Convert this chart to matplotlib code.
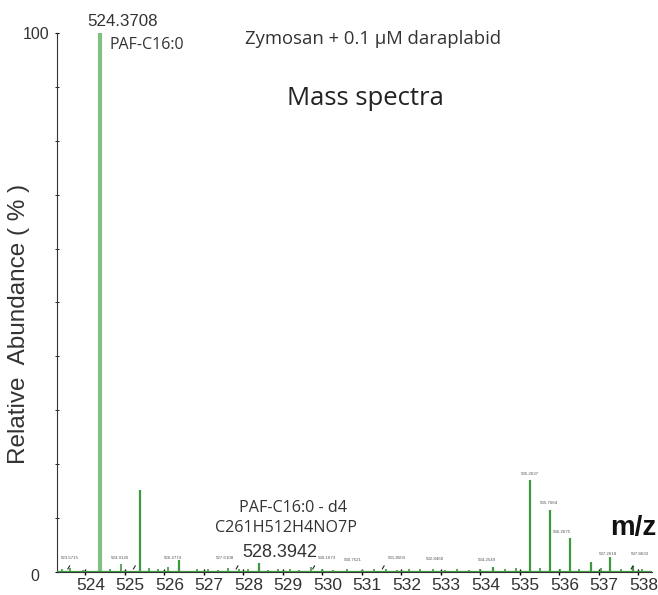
import matplotlib
matplotlib.use("Agg")
import matplotlib.pyplot as plt
from matplotlib.ticker import MultipleLocator, FixedLocator
from matplotlib.transforms import ScaledTranslation

# main labelled peaks (m/z, relative abundance %)
peak_mz = [524.3708, 525.3736, 535.2637, 535.7664, 536.2675, 536.79, 537.28, 526.37, 528.39, 534.31, 537.86]
peak_int = [100, 15.2, 17.1, 11.5, 6.3, 1.9, 2.8, 2.2, 1.7, 1.0, 1.1]

# small noise peaks along the baseline
noise_mz = [523.40, 523.62, 523.95, 524.62, 524.90, 525.62, 525.85, 526.10, 526.82, 527.10,
            527.37, 527.62, 527.90, 528.12, 528.62, 528.87, 529.18, 529.42, 529.70, 530.00,
            530.28, 530.62, 531.00, 531.30, 531.62, 531.90, 532.20, 532.48, 532.80, 533.10,
            533.40, 533.70, 534.00, 534.62, 534.90, 535.50, 536.02, 536.50, 537.05, 537.55, 538.10]
noise_int = [0.5, 0.8, 0.4, 0.6, 1.4, 0.7, 0.5, 0.9, 0.6, 0.5,
             0.4, 0.7, 0.5, 0.6, 0.4, 0.6, 0.5, 0.4, 0.9, 0.5,
             0.4, 0.5, 0.4, 0.6, 0.5, 0.4, 0.5, 0.6, 0.5, 0.4,
             0.5, 0.4, 0.6, 0.5, 0.7, 0.8, 0.6, 0.5, 0.7, 0.5, 0.6]

# tiny peak annotations (text, m/z, y)
small_labels = ["523.5715", "524.9126", "526.2774", "527.6108", "530.1673", "530.7521",
                "531.8503", "532.8460", "534.2549", "535.2637", "535.7664", "536.2675",
                "537.2618", "537.8633"]
small_label_mz = [523.61, 524.88, 526.22, 527.53, 530.12, 530.78, 531.89, 532.85, 534.17,
                  535.26, 535.74, 536.06, 537.22, 538.03]
small_label_y = [2.2, 2.2, 2.2, 2.2, 2.2, 1.8, 2.2, 2.0, 1.8, 17.8, 12.5, 7.1, 3.0, 3.0]

# little black pointers down to the baseline
pointer_mz = [523.52, 525.18, 527.78, 529.72, 531.48, 537.78]

xticks = list(range(524, 539))

fig = plt.figure(figsize=(6.58, 5.95), dpi=100)
ax = fig.add_axes([0.0866, 0.0387, 0.9044, 0.9058])

green = "#3f9a3f"
ax.vlines(noise_mz, 0, noise_int, color=green, lw=1.2)
ax.vlines(peak_mz[1:], 0, peak_int[1:], color=green, lw=1.6)
ax.vlines(peak_mz[:1], 0, peak_int[:1], color="#80c080", lw=3.0)
ax.axhline(0, color=green, lw=1.6, zorder=3)

for t, m, y in zip(small_labels, small_label_mz, small_label_y):
    ax.text(m, y, t, fontsize=3.2, color="#555555", ha="center", va="bottom",
            family="Liberation Sans")
for m in pointer_mz:
    ax.annotate("", xy=(m, 0.1), xytext=(m + 0.12, 1.6),
                arrowprops=dict(arrowstyle="-", color="#222222", lw=0.8))

ax.set_xlim(523.282, 538.346)
ax.set_ylim(0, 100)

for s in ["top", "right"]:
    ax.spines[s].set_visible(False)
ax.spines["left"].set_color("#333333")
ax.spines["bottom"].set_color("#333333")

ax.xaxis.set_major_locator(FixedLocator(xticks))
ax.set_xticklabels([str(v) for v in xticks], family="Liberation Sans", fontsize=12.5, color="#333333")
ax.tick_params(axis="x", direction="inout", length=4, pad=2, width=1)
for lab in ax.get_xticklabels():
    lab.set_transform(lab.get_transform() + ScaledTranslation(5 / 100, 0, fig.dpi_scale_trans))

ax.set_yticks([0, 100])
ax.set_yticklabels(["0", "100"], family="Liberation Sans", fontsize=11.5, color="#333333")
ax.yaxis.set_minor_locator(MultipleLocator(10))
ax.tick_params(axis="y", which="both", direction="inout", length=3, pad=4)
ylabs = ax.get_yticklabels()
ylabs[0].set_transform(ylabs[0].get_transform() + ScaledTranslation(-10 / 100, -3 / 100, fig.dpi_scale_trans))

ax.set_ylabel("Relative  Abundance ( % )", family="Liberation Sans", fontsize=17.5,
              color="#333333")
ax.yaxis.set_label_coords(-0.045, 0.46)

ax.text(524.04, 102.2, "524.3708", family="Liberation Sans", fontsize=12.2, color="#333333",
        ha="left", va="center")
ax.text(524.62, 97.8, "PAF-C16:0", family="Open Sans", fontsize=11.5, color="#333333",
        ha="left", va="center")
ax.text(531.28, 98.8, "Zymosan + 0.1 μM daraplabid", family="Open Sans", fontsize=13.3,
        color="#333333", ha="center", va="center")
ax.text(531.10, 87.9, "Mass spectra", family="Open Sans", fontsize=18.5,
        color="#222222", ha="center", va="center")
ax.text(529.26, 11.9, "PAF-C16:0 - d4", family="Open Sans", fontsize=11.6,
        color="#333333", ha="center", va="center")
ax.text(529.08, 8.2, "C261H512H4NO7P", family="Open Sans", fontsize=11.6,
        color="#333333", ha="center", va="center")
ax.text(528.93, 3.7, "528.3942", family="Liberation Sans", fontsize=13,
        color="#333333", ha="center", va="center")
ax.text(537.86, 8.2, "m/z", family="Liberation Sans", fontsize=20, fontweight="bold",
        color="#111111", ha="center", va="center")

fig.savefig("out.png", dpi=100)
